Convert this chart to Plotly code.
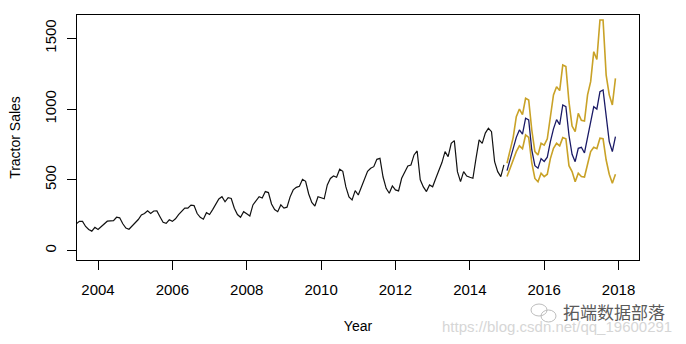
import plotly.graph_objects as go

# ---- data ----
start_year = 2003
sales = [
    141, 157, 185, 199, 203, 189, 207, 207, 171, 150, 138, 165,   # 2003
    150, 170, 195, 208, 210, 212, 236, 232, 190, 160, 151, 175,   # 2004
    193, 220, 252, 262, 282, 262, 280, 281, 240, 200, 193, 218,   # 2005
    207, 225, 255, 280, 300, 300, 322, 318, 262, 235, 222, 268,   # 2006
    255, 290, 330, 365, 381, 345, 374, 368, 300, 255, 236, 275,   # 2007
    260, 245, 323, 350, 381, 372, 417, 410, 330, 290, 275, 323,   # 2008
    300, 307, 380, 429, 447, 455, 504, 490, 400, 340, 315, 381,   # 2009
    371, 366, 464, 510, 527, 518, 575, 560, 450, 380, 358, 424,   # 2010
    393, 450, 500, 560, 582, 593, 645, 652, 520, 440, 405, 457,   # 2011
    429, 422, 511, 560, 598, 605, 676, 704, 500, 450, 417, 464,   # 2012
    451, 510, 560, 622, 699, 664, 758, 777, 558, 487, 558, 527,   # 2013
    518, 511, 652, 782, 758, 830, 864, 840, 628, 558, 523, 605,   # 2014
]
fc_start_year = 2015
fc_mean = [
    565, 640, 711, 800, 852, 822, 935, 923, 711, 600, 582, 650,   # 2015
    630, 660, 770, 860, 925, 890, 1029, 1017, 815, 680, 628, 723,  # 2016
    730, 690, 800, 900, 1017, 1000, 1123, 1135, 930, 770, 699, 805,  # 2017
]
fc_upper = [
    617, 700, 800, 946, 1000, 960, 1076, 1064, 852, 700, 676, 758,
    745, 790, 960, 1100, 1158, 1130, 1311, 1300, 1050, 880, 840, 970,
    920, 915, 1100, 1193, 1405, 1350, 1629, 1629, 1240, 1100, 1029, 1217,
]
fc_lower = [
    523, 580, 640, 699, 740, 720, 817, 800, 620, 510, 487, 547,
    523, 540, 650, 723, 758, 740, 798, 790, 600, 558, 487, 547,
    523, 520, 610, 699, 730, 720, 794, 790, 640, 540, 476, 540,
]
x_ticks = [2004, 2006, 2008, 2010, 2012, 2014, 2016, 2018]
y_ticks = [0, 500, 1000, 1500]

t_hist = [start_year + i / 12 for i in range(len(sales))]
t_fc = [fc_start_year + i / 12 for i in range(len(fc_mean))]

FONT = "Liberation Sans, Arial, sans-serif"
GOLD = "#c9a227"
NAVY = "#1a1a66"

L, R, T, B = 77, 47, 15, 84
W, H = 686, 344

fig = go.Figure()
fig.add_trace(go.Scatter(x=t_hist, y=sales, mode="lines",
                         line=dict(color="#111111", width=1.2), showlegend=False))
fig.add_trace(go.Scatter(x=t_fc, y=fc_upper, mode="lines",
                         line=dict(color=GOLD, width=1.6), showlegend=False))
fig.add_trace(go.Scatter(x=t_fc, y=fc_lower, mode="lines",
                         line=dict(color=GOLD, width=1.6), showlegend=False))
fig.add_trace(go.Scatter(x=t_fc, y=fc_mean, mode="lines",
                         line=dict(color=NAVY, width=1.3), showlegend=False))

fig.update_layout(
    width=W, height=H,
    margin=dict(l=L, r=R, t=T, b=B),
    paper_bgcolor="white", plot_bgcolor="white",
    font=dict(family=FONT, size=14, color="black"),
    xaxis=dict(
        range=[2003.435, 2018.55], tickmode="array", tickvals=x_ticks,
        ticktext=[str(v) for v in x_ticks],
        showgrid=False, zeroline=False,
        showline=True, linecolor="black", linewidth=1, mirror=True,
        ticks="outside", ticklen=9, tickcolor="black", tickwidth=1,
        ticklabelstandoff=7,
        tickfont=dict(size=15),
        title=dict(text="Year", font=dict(size=14), standoff=24),
    ),
    yaxis=dict(
        range=[-66, 1664], tickmode="array", tickvals=y_ticks,
        ticktext=[str(v) for v in y_ticks],
        showgrid=False, zeroline=False,
        showline=True, linecolor="black", linewidth=1, mirror=True,
        ticks="outside", ticklen=9, tickcolor="black", tickwidth=1,
        tickangle=-90, ticklabelstandoff=5,
        tickfont=dict(size=15),
        title=dict(text="Tractor Sales", font=dict(size=14), standoff=18),
    ),
)

pw, ph = W - L - R, H - T - B
def px(xp):
    return (xp - L) / pw
def py(yp):
    return (H - B - yp) / ph

# watermark texts
fig.add_annotation(x=px(614), y=py(312), xref="paper", yref="paper", text="拓端数据部落",
                   showarrow=False, xanchor="center", yanchor="middle",
                   font=dict(family="Noto Sans CJK SC", size=17, color="#5a5a5a"))
fig.add_annotation(text="https://blog.csdn.net/qq_19600291", showarrow=False,
                   xref="paper", yref="paper", x=px(440), y=py(326),
                   xanchor="left", yanchor="middle",
                   font=dict(family=FONT, size=15, color="#d6d6d6"))
# small wechat-like icon of the watermark
fig.add_shape(type="circle", xref="paper", yref="paper",
              x0=px(531), x1=px(547), y0=py(316), y1=py(304),
              line=dict(color="#bdbdbd", width=1))
fig.add_shape(type="circle", xref="paper", yref="paper",
              x0=px(541), x1=px(556), y0=py(322), y1=py(310),
              line=dict(color="#bdbdbd", width=1))

fig.write_html("out.html")
